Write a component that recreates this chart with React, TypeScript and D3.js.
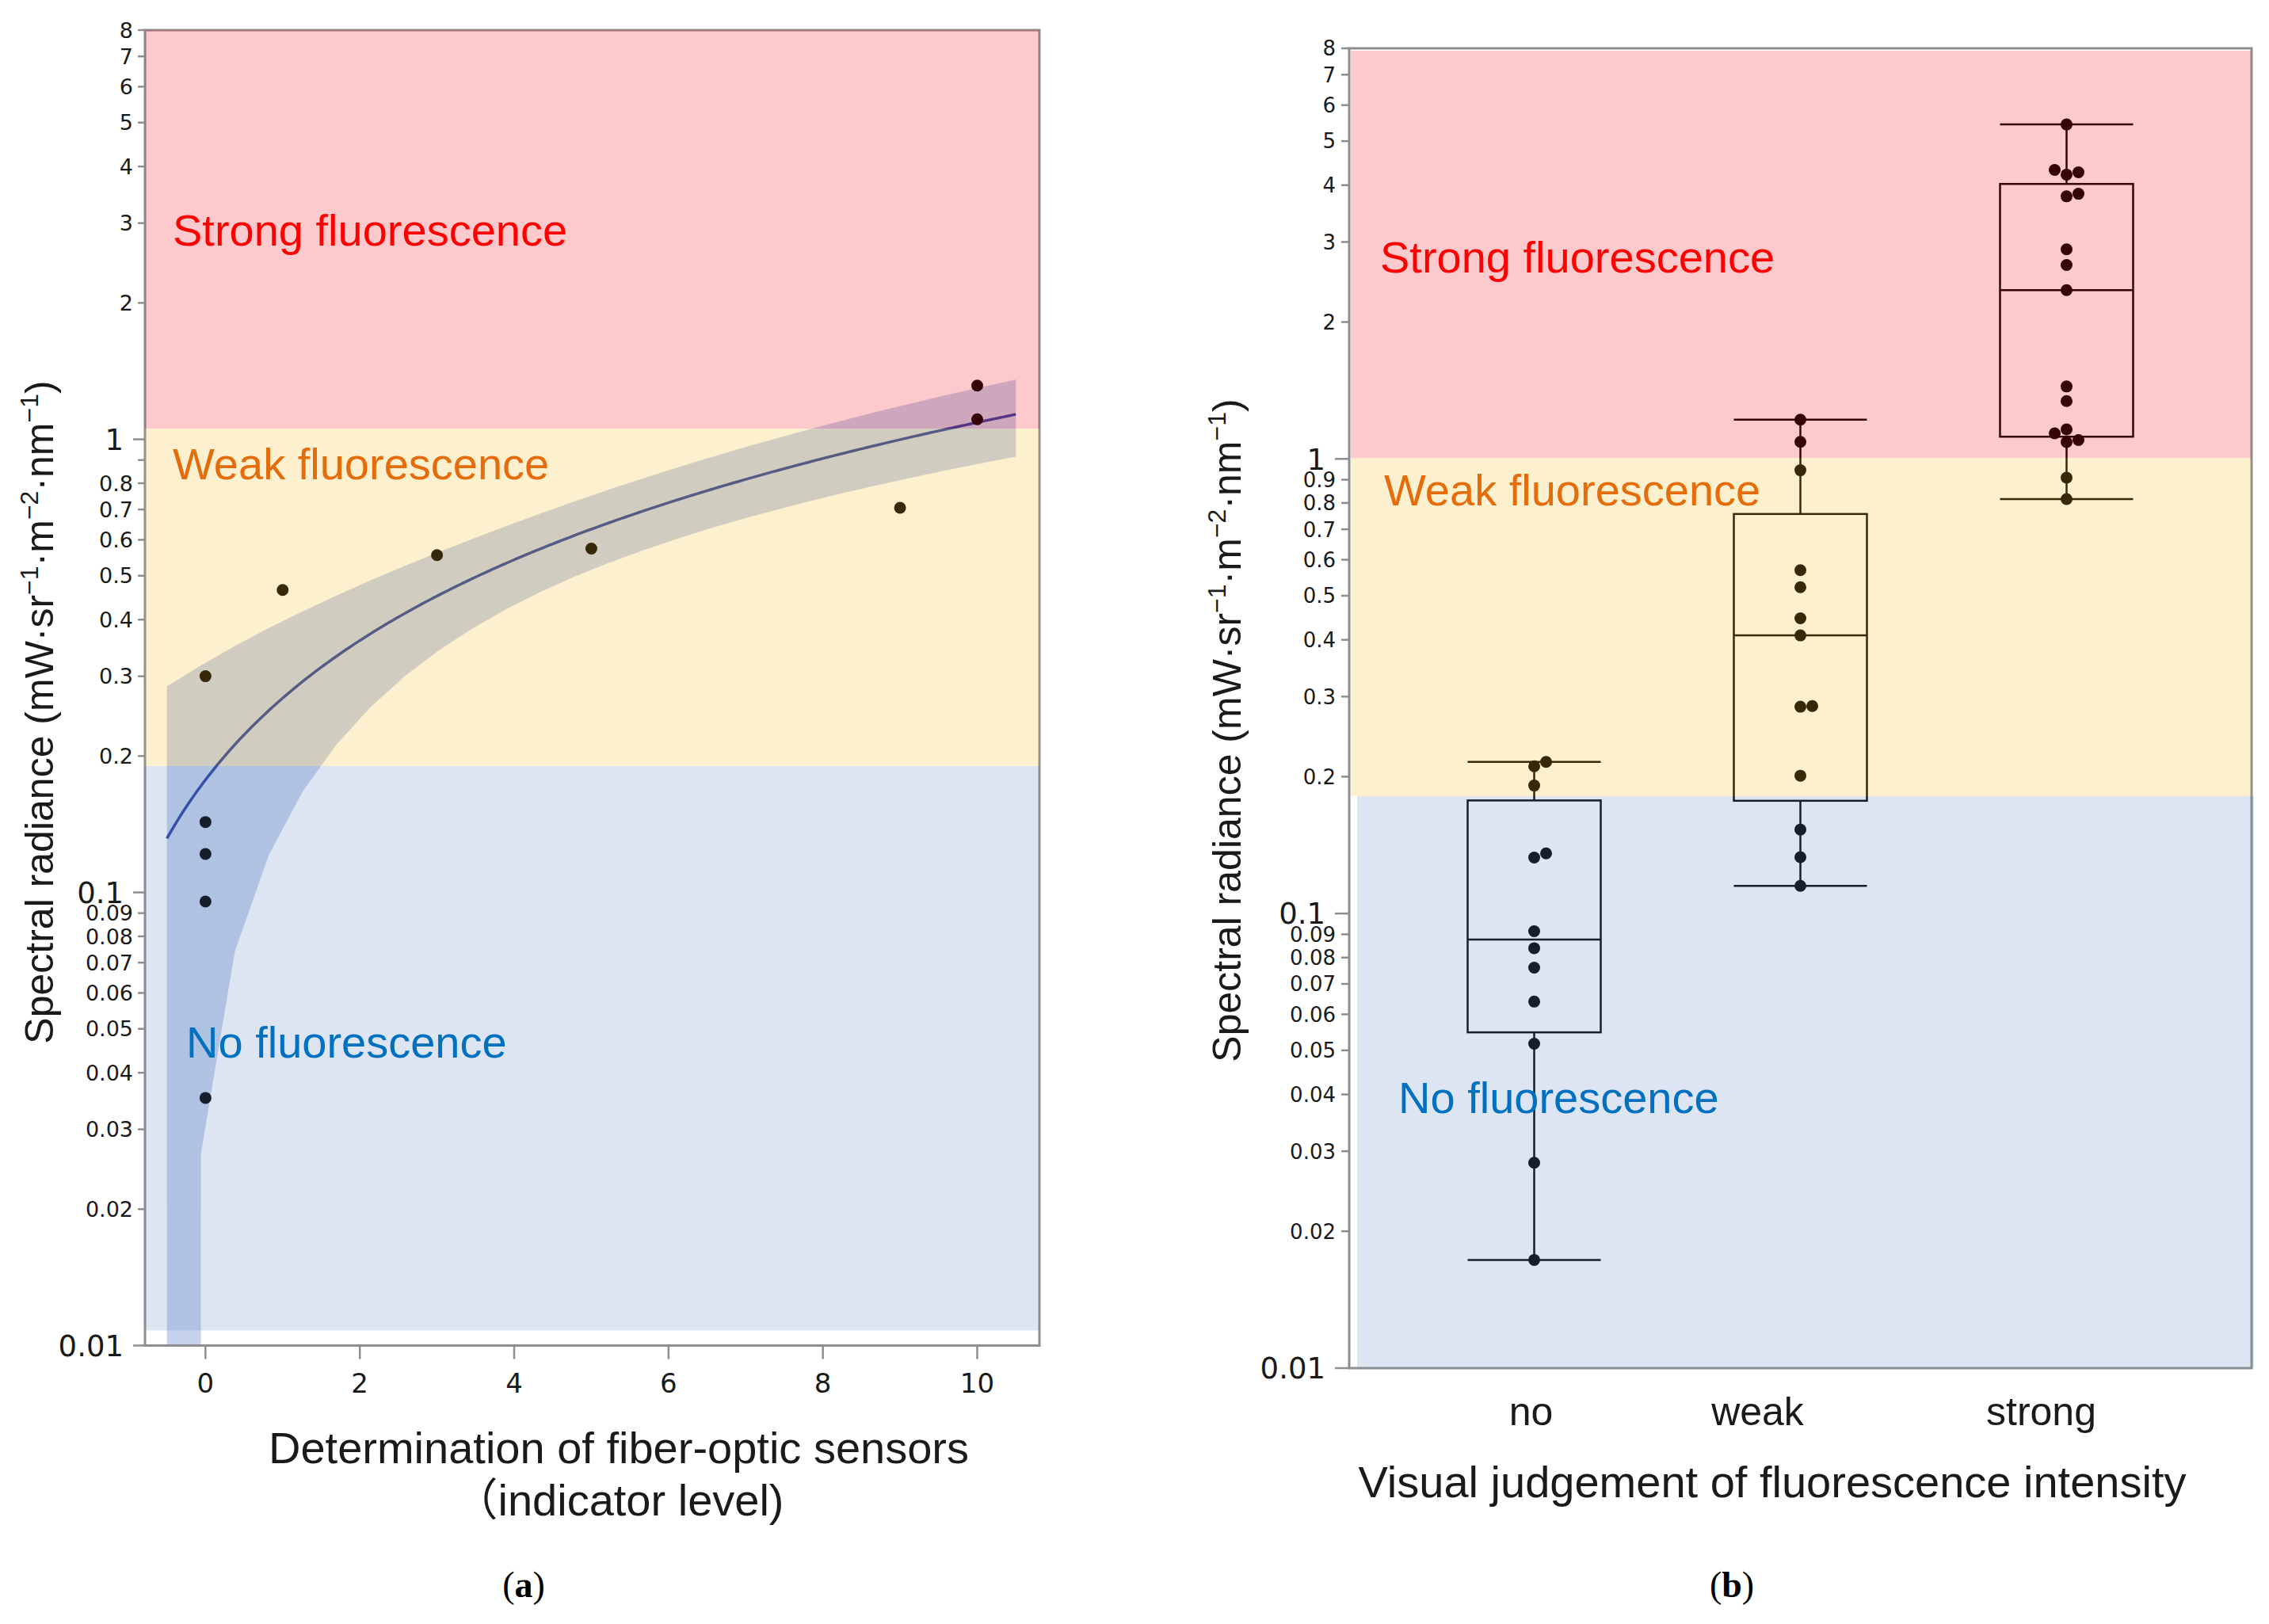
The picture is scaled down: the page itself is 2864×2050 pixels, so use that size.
import React from "react";
import * as d3 from "d3";

const W = 2864;
const H = 2050;

// ---------------- Panel (a) data ----------------
const sensorLevel = [0, 0, 0, 0, 0, 1, 3, 5, 9, 10, 10];
const sensorRadiance = [0.3, 0.143, 0.1216, 0.0955, 0.0352, 0.465, 0.555, 0.574, 0.706, 1.314, 1.107];
const xTicksA = [0, 2, 4, 6, 8, 10];
const fitRange = [-0.5, 10.5];

// ---------------- Panel (b) data ----------------
const visualCategories = ["no", "weak", "strong"];
const radianceNo = [0.2108, 0.2155, 0.1912, 0.1328, 0.1356, 0.0914, 0.0839, 0.076, 0.064, 0.0517, 0.0283, 0.0173];
const radianceWeak = [1.22, 1.09, 0.944, 0.569, 0.522, 0.446, 0.409, 0.285, 0.286, 0.201, 0.153, 0.133, 0.115];
const radianceStrong = [5.44, 4.27, 4.22, 4.32, 3.78, 3.83, 2.89, 2.67, 2.35, 1.443, 1.34, 1.089, 1.1, 1.161, 1.138, 0.909, 0.816];

// ---------------- ticks ----------------
const yMajorTicks = [0.01, 0.1, 1];
const yMinorTicks = [0.02, 0.03, 0.04, 0.05, 0.06, 0.07, 0.08, 0.09, 0.2, 0.3, 0.4, 0.5, 0.6, 0.7, 0.8, 0.9, 2, 3, 4, 5, 6, 7, 8];
const unlabeledTicksA = [0.9];

// ---------------- zones ----------------
const zoneNames = ["Strong fluorescence", "Weak fluorescence", "No fluorescence"];
const zoneTextColors = ["#ff0000", "#e46c0a", "#0070c0"];
const zoneFill = ["rgb(241,14,23)", "rgb(246,187,37)", "rgb(96,137,191)"];
const zoneBoundsA = [8, 1.056, 0.19, 0.0108];
const zoneBoundsB = [7.9, 1.005, 0.181, 0.01];

// ---------------- layout ----------------
const A = { left: 183, right: 1312, top: 38, bottom: 1698.5 };
const B = { left: 1703, right: 2842, top: 61, bottom: 1727 };
const zoneLabelPosA = [
  { x: 218, y: 310 },
  { x: 218, y: 605 },
  { x: 235, y: 1335 },
];
const zoneLabelPosB = [
  { x: 1742, y: 344 },
  { x: 1747, y: 638 },
  { x: 1765, y: 1405 },
];
const catLabelNudge = [-4, -54, -32];

const SANS = "'Liberation Sans', Arial, Helvetica, 'Noto Sans CJK JP', sans-serif";
const TICKFONT = "'DejaVu Sans', Verdana, sans-serif";
const SERIF = "'Liberation Serif', 'Times New Roman', serif";
const AXIS_GRAY = "#8e8e8e";
const TEXT = "#1a1a1a";
const ZONE_ALPHA = 0.22;

const xA = d3.scaleLinear().domain([-0.784, 10.806]).range([A.left, A.right]);
const yA = d3.scaleLog().domain([0.01, 8]).range([A.bottom, A.top]);
const xB = d3.scalePoint<string>().domain(visualCategories).range([B.left, B.right]).padding(0.695);
const yB = d3.scaleLog().domain([0.01, 8]).range([B.bottom, B.top]);

// ---------- linear regression with 95% CI of the mean ----------
function linreg(xs: number[], ys: number[]) {
  const n = xs.length;
  const mx = d3.mean(xs) as number;
  const my = d3.mean(ys) as number;
  let sxx = 0;
  let sxy = 0;
  for (let i = 0; i < n; i++) {
    sxx += (xs[i] - mx) ** 2;
    sxy += (xs[i] - mx) * (ys[i] - my);
  }
  const b = sxy / sxx;
  const a = my - b * mx;
  let sse = 0;
  for (let i = 0; i < n; i++) sse += (ys[i] - a - b * xs[i]) ** 2;
  const s = Math.sqrt(sse / (n - 2));
  const t = 2.262; // t(0.975, df = 9)
  const fit = (x: number) => a + b * x;
  const hw = (x: number) => t * s * Math.sqrt(1 / n + (x - mx) ** 2 / sxx);
  return { fit, hw };
}

const reg = linreg(sensorLevel, sensorRadiance);

function bandPath() {
  const steps = 25;
  const xs = d3.range(steps + 1).map((i) => fitRange[0] + ((fitRange[1] - fitRange[0]) * i) / steps);
  const pts = xs.map((x) => ({ x, up: reg.fit(x) + reg.hw(x), lo: reg.fit(x) - reg.hw(x) }));
  const poly: [number, number][] = pts.map((p) => [xA(p.x), yA(p.up)]);
  for (let i = pts.length - 1; i >= 0; i--) {
    const p = pts[i];
    if (p.lo > 0.01) {
      poly.push([xA(p.x), yA(p.lo)]);
    } else {
      const last = pts[Math.min(i + 1, pts.length - 1)];
      poly.push([xA(last.x), A.bottom]);
      poly.push([xA(pts[0].x), A.bottom]);
      break;
    }
  }
  return (d3.line()(poly) as string) + "Z";
}

function fitPath() {
  const xs = d3.range(201).map((i) => fitRange[0] + ((fitRange[1] - fitRange[0]) * i) / 200);
  return d3
    .line<number>()
    .x((x) => xA(x))
    .y((x) => yA(reg.fit(x)))(xs) as string;
}

// ---------- box stats (JMP style (n+1)p quantiles) ----------
function quant(sorted: number[], p: number) {
  const n = sorted.length;
  const h = (n + 1) * p;
  const lo = Math.floor(h);
  if (lo < 1) return sorted[0];
  if (lo >= n) return sorted[n - 1];
  return sorted[lo - 1] + (h - lo) * (sorted[lo] - sorted[lo - 1]);
}
function boxStats(vals: number[]) {
  const s = [...vals].sort((a, b) => a - b);
  const q1 = quant(s, 0.25);
  const med = quant(s, 0.5);
  const q3 = quant(s, 0.75);
  const iqr = q3 - q1;
  const lo = s.find((v) => v >= q1 - 1.5 * iqr) as number;
  const hi = [...s].reverse().find((v) => v <= q3 + 1.5 * iqr) as number;
  return { q1, med, q3, lo, hi };
}

// ---------- simple dodge for dots ----------
function dodge(vals: number[], r: number, step: number) {
  const pts = vals.map((v) => ({ v, y: yB(v), dx: 0 })).sort((a, b) => b.y - a.y);
  const placed: { y: number; dx: number }[] = [];
  const order = [0, 1, -1, 2, -2, 3, -3];
  for (const p of pts) {
    for (const k of order) {
      const dx = k * step;
      const ok = placed.every((q) => (q.dx - dx) ** 2 + (q.y - p.y) ** 2 >= (2 * r * 0.98) ** 2);
      if (ok) {
        p.dx = dx;
        break;
      }
    }
    placed.push(p);
  }
  return pts;
}

const groupValues = [radianceNo, radianceWeak, radianceStrong];

function fmt(v: number) {
  return String(+v.toPrecision(2));
}

function YAxis({
  y,
  x0,
  majorLen,
  minorLen,
  majorGap,
  minorGap,
  majorSize,
  minorSize,
  unlabeled,
}: {
  y: d3.ScaleLogarithmic<number, number>;
  x0: number;
  majorLen: number;
  minorLen: number;
  majorGap: number;
  minorGap: number;
  majorSize: number;
  minorSize: number;
  unlabeled: number[];
}) {
  return (
    <g>
      {yMajorTicks.map((t) => (
        <g key={"M" + t}>
          <line x1={x0 - majorLen} x2={x0} y1={y(t)} y2={y(t)} stroke={AXIS_GRAY} strokeWidth={2.5} />
          <text
            x={x0 - majorLen - majorGap}
            y={y(t)}
            dy="0.36em"
            textAnchor="end"
            fontFamily={TICKFONT}
            fontSize={majorSize}
            fill={TEXT}
          >
            {fmt(t)}
          </text>
        </g>
      ))}
      {yMinorTicks.map((t) => (
        <g key={"m" + t}>
          <line x1={x0 - minorLen} x2={x0} y1={y(t)} y2={y(t)} stroke={AXIS_GRAY} strokeWidth={2.5} />
          {unlabeled.indexOf(t) < 0 && (
            <text
              x={x0 - minorLen - minorGap}
              y={y(t)}
              dy="0.36em"
              textAnchor="end"
              fontFamily={TICKFONT}
              fontSize={minorSize}
              fill={TEXT}
            >
              {fmt(t)}
            </text>
          )}
        </g>
      ))}
    </g>
  );
}

function YLabel({ x, y }: { x: number; y: number }) {
  const sup = { fontSize: 32 };
  return (
    <text
      transform={`translate(${x},${y}) rotate(-90)`}
      textAnchor="middle"
      fontFamily={SANS}
      fontSize={50}
      fill={TEXT}
    >
      <tspan>Spectral radiance (mW·sr</tspan>
      <tspan dy={-19} {...sup}>−1</tspan>
      <tspan dy={19}>·m</tspan>
      <tspan dy={-19} {...sup}>−2</tspan>
      <tspan dy={19}>·nm</tspan>
      <tspan dy={-19} {...sup}>−1</tspan>
      <tspan dy={19}>)</tspan>
    </text>
  );
}

export default function App() {
  const boxHalf = 84;
  const dotR = 7.5;

  return (
    <svg
      width={W}
      height={H}
      viewBox={`0 0 ${W} ${H}`}
      style={{ position: "absolute", left: 0, top: 0, background: "#fff" }}
    >
      <rect x={0} y={0} width={W} height={H} fill="#fff" />

      {/* ================= Panel (a) ================= */}
      <g>
        <defs>
          <clipPath id="clipA">
            <rect x={A.left} y={A.top} width={A.right - A.left} height={A.bottom - A.top} />
          </clipPath>
        </defs>
        <g clipPath="url(#clipA)">
          <path d={bandPath()} fill="rgb(60,100,190)" fillOpacity={0.29} />
          <path d={fitPath()} fill="none" stroke="#2841a0" strokeWidth={3.5} />
        </g>
        {sensorLevel.map((lv, i) => (
          <circle key={i} cx={xA(lv)} cy={yA(sensorRadiance[i])} r={dotR} fill="#000" />
        ))}
        {/* frame */}
        <rect
          x={A.left}
          y={A.top}
          width={A.right - A.left}
          height={A.bottom - A.top}
          fill="none"
          stroke={AXIS_GRAY}
          strokeWidth={3}
        />
        {/* zone overlays */}
        {zoneNames.map((z, i) => (
          <rect
            key={z}
            x={A.left}
            y={yA(zoneBoundsA[i])}
            width={A.right - A.left}
            height={yA(zoneBoundsA[i + 1]) - yA(zoneBoundsA[i])}
            fill={zoneFill[i]}
            fillOpacity={ZONE_ALPHA}
          />
        ))}
        {/* x axis ticks */}
        {xTicksA.map((t) => (
          <g key={t}>
            <line x1={xA(t)} x2={xA(t)} y1={A.bottom} y2={A.bottom + 17} stroke={AXIS_GRAY} strokeWidth={2.5} />
            <text x={xA(t)} y={1758} textAnchor="middle" fontFamily={TICKFONT} fontSize={34} fill={TEXT}>
              {t}
            </text>
          </g>
        ))}
        <YAxis
          y={yA}
          x0={A.left}
          majorLen={15}
          minorLen={9}
          majorGap={12}
          minorGap={6}
          majorSize={37}
          minorSize={27}
          unlabeled={unlabeledTicksA}
        />
        {zoneNames.map((z, i) => (
          <text
            key={z}
            x={zoneLabelPosA[i].x}
            y={zoneLabelPosA[i].y}
            fontFamily={SANS}
            fontSize={56}
            fill={zoneTextColors[i]}
          >
            {z}
          </text>
        ))}
        <YLabel x={67} y={899} />
        <text x={781} y={1847} textAnchor="middle" fontFamily={SANS} fontSize={56} fill={TEXT}>
          Determination of fiber-optic sensors
        </text>
        <text x={781} y={1913} textAnchor="middle" fontFamily={SANS} fontSize={56} fill={TEXT}>
          （indicator level)
        </text>
        <text x={661} y={2016} textAnchor="middle" fontFamily={SERIF} fontSize={46} fill="#000">
          <tspan>(</tspan>
          <tspan fontWeight="bold">a</tspan>
          <tspan>)</tspan>
        </text>
      </g>

      {/* ================= Panel (b) ================= */}
      <g>
        {visualCategories.map((c, gi) => {
          const st = boxStats(groupValues[gi]);
          const cx = xB(c) as number;
          const stroke = "#000";
          return (
            <g key={c}>
              <line x1={cx} x2={cx} y1={yB(st.hi)} y2={yB(st.q3)} stroke={stroke} strokeWidth={2.5} />
              <line x1={cx} x2={cx} y1={yB(st.q1)} y2={yB(st.lo)} stroke={stroke} strokeWidth={2.5} />
              <line x1={cx - boxHalf} x2={cx + boxHalf} y1={yB(st.hi)} y2={yB(st.hi)} stroke={stroke} strokeWidth={2.5} />
              <line x1={cx - boxHalf} x2={cx + boxHalf} y1={yB(st.lo)} y2={yB(st.lo)} stroke={stroke} strokeWidth={2.5} />
              <rect
                x={cx - boxHalf}
                y={yB(st.q3)}
                width={boxHalf * 2}
                height={yB(st.q1) - yB(st.q3)}
                fill="none"
                stroke={stroke}
                strokeWidth={2.5}
              />
              <line x1={cx - boxHalf} x2={cx + boxHalf} y1={yB(st.med)} y2={yB(st.med)} stroke={stroke} strokeWidth={2.5} />
              {dodge(groupValues[gi], dotR, 15).map((p, i) => (
                <circle key={i} cx={cx + p.dx} cy={p.y} r={dotR} fill="#000" />
              ))}
            </g>
          );
        })}
        {/* frame */}
        <rect
          x={B.left}
          y={B.top}
          width={B.right - B.left}
          height={B.bottom - B.top}
          fill="none"
          stroke={AXIS_GRAY}
          strokeWidth={3}
        />
        {zoneNames.map((z, i) => {
          const x0 = i === 2 ? B.left + 10 : B.left + 2;
          const x1 = i === 2 ? B.right + 3 : B.right - 1;
          return (
            <rect
              key={z}
              x={x0}
              y={yB(zoneBoundsB[i])}
              width={x1 - x0}
              height={yB(zoneBoundsB[i + 1]) - yB(zoneBoundsB[i])}
              fill={zoneFill[i]}
              fillOpacity={ZONE_ALPHA}
            />
          );
        })}
        <YAxis
          y={yB}
          x0={B.left}
          majorLen={18}
          minorLen={10}
          majorGap={12}
          minorGap={7}
          majorSize={37}
          minorSize={26}
          unlabeled={[]}
        />
        {visualCategories.map((c, i) => (
          <text
            key={c}
            x={(xB(c) as number) + catLabelNudge[i]}
            y={1799}
            textAnchor="middle"
            fontFamily={SANS}
            fontSize={50}
            fill={TEXT}
          >
            {c}
          </text>
        ))}
        {zoneNames.map((z, i) => (
          <text
            key={z}
            x={zoneLabelPosB[i].x}
            y={zoneLabelPosB[i].y}
            fontFamily={SANS}
            fontSize={56}
            fill={zoneTextColors[i]}
          >
            {z}
          </text>
        ))}
        <YLabel x={1566} y={922} />
        <text x={2237} y={1890} textAnchor="middle" fontFamily={SANS} fontSize={56} fill={TEXT}>
          Visual judgement of fluorescence intensity
        </text>
        <text x={2186} y={2016} textAnchor="middle" fontFamily={SERIF} fontSize={46} fill="#000">
          <tspan>(</tspan>
          <tspan fontWeight="bold">b</tspan>
          <tspan>)</tspan>
        </text>
      </g>
    </svg>
  );
}
